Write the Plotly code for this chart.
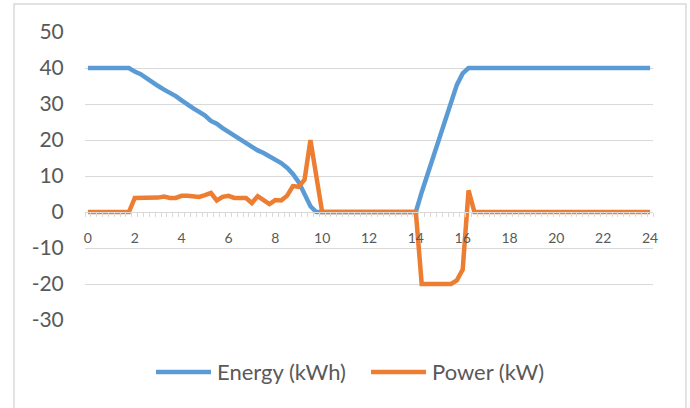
import plotly.graph_objects as go

hours = [i * 0.25 for i in range(97)]

energy_kwh = [
    40, 40, 40, 40, 40, 40, 40, 40,
    39, 38.3, 37.2, 36, 35, 34, 33.2, 32.2,
    31, 29.8, 28.8, 27.8, 26.8, 25.3, 24.5, 23.3,
    22.3, 21.2, 20.1, 19, 18.2, 17.1, 16.4, 15.5,
    14.6, 13.6, 12.3, 10.6, 8.3, 5, 1.6, 0,
    0, 0, 0, 0, 0, 0, 0, 0, 0, 0, 0, 0, 0, 0, 0, 0, 0,
    5.5, 10.5, 15.8, 20.5, 25.5, 30.5, 35.3, 38.5, 40,
    40, 40, 40, 40, 40, 40, 40, 40, 40, 40, 40, 40, 40, 40, 40, 40,
    40, 40, 40, 40, 40, 40, 40, 40, 40, 40, 40, 40, 40, 40, 40,
]

power_kw = [
    0, 0, 0, 0, 0, 0, 0, 0,
    3.9, 3.9, 3.9, 3.9, 4.0, 4.3, 3.9, 3.9,
    4.5, 4.5, 4.2, 4.2, 4.7, 5.3, 3.2, 4.2,
    4.5, 3.9, 3.9, 3.9, 2.5, 4.4, 3.3, 2.2,
    3.3, 3.2, 4.5, 7.2, 7.0, 9.0, 20, 10, 0,
    0, 0, 0, 0, 0, 0, 0, 0, 0, 0, 0, 0, 0, 0, 0, 0,
    -20, -20, -20, -20, -20, -20, -19, -16, 6, 0,
    0, 0, 0, 0, 0, 0, 0, 0, 0, 0, 0, 0, 0, 0, 0,
    0, 0, 0, 0, 0, 0, 0, 0, 0, 0, 0, 0, 0, 0, 0,
]

series_names = ["Energy (kWh)", "Power (kW)"]
series_colors = ["#5B9BD5", "#ED7D31"]

x_ticks = list(range(0, 25, 2))
y_ticks = list(range(-30, 51, 10))

FONT = "Lato"
TXT = "#595959"
GRID = "#d9d9d9"

fig = go.Figure()
for name, vals, col in zip(series_names, [energy_kwh, power_kw], series_colors):
    fig.add_trace(go.Scatter(x=hours, y=vals, mode="lines", name=name,
                             line=dict(color=col, width=4.5), showlegend=False))

fig.update_layout(
    width=690, height=408,
    margin=dict(l=85, r=37, t=32, b=88),
    paper_bgcolor="white", plot_bgcolor="white",
    font=dict(family=FONT, color=TXT),
    xaxis=dict(
        range=[-0.125, 24.125], tickvals=x_ticks, ticktext=[str(v) for v in x_ticks],
        anchor="free", position=0.375,
        showgrid=False, zeroline=False,
        showline=True, linecolor=GRID, linewidth=1,
        ticks="outside", ticklen=13, tickcolor="rgba(0,0,0,0)",
        tickfont=dict(family=FONT, size=14, color=TXT),
        minor=dict(ticks="outside", tick0=-0.125, dtick=0.25, ticklen=4,
                   tickcolor=GRID, showgrid=False),
    ),
    yaxis=dict(
        range=[-30, 50], tickvals=y_ticks, ticktext=[str(v) for v in y_ticks],
        domain=[0, 1],
        showgrid=True, gridcolor=GRID, gridwidth=1, zeroline=False,
        showline=False,
        ticks="outside", ticklen=16, tickcolor="rgba(0,0,0,0)",
        tickfont=dict(family=FONT, size=21, color=TXT),
    ),
)

# chart border
fig.add_shape(type="rect", xref="paper", yref="paper",
              x0=-0.125, x1=1.058, y0=-0.4, y1=1.097,
              line=dict(color=GRID, width=1.5), fillcolor="rgba(0,0,0,0)", layer="below")

# legend drawn manually (Excel-style long line samples)
leg_y = -0.1806
leg_items = [(0.1250, 0.2218, 0.2289), (0.5035, 0.6004, 0.6074)]
for (x0, x1, xt), name, col in zip(leg_items, series_names, series_colors):
    fig.add_shape(type="line", xref="paper", yref="paper",
                  x0=x0, x1=x1, y0=leg_y, y1=leg_y,
                  line=dict(color=col, width=4.5))
    fig.add_annotation(xref="paper", yref="paper", x=xt, y=leg_y + 0.003,
                       xanchor="left", yanchor="middle", showarrow=False,
                       text=name, font=dict(family=FONT, size=22, color=TXT))

fig.write_html("out.html", config={"displayModeBar": False},
               post_script="document.body.style.margin='0px';")
